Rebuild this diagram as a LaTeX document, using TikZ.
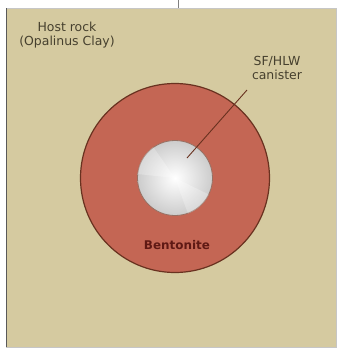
\documentclass[tikz,border=0pt]{standalone}
\usepackage{fontspec}
\setsansfont{DejaVu Sans}
\definecolor{hostrock}{RGB}{213,202,160}
\definecolor{bentonite}{RGB}{196,102,84}
\definecolor{rim}{RGB}{105,50,32}
\definecolor{labeltext}{RGB}{70,64,46}
\definecolor{bentotext}{RGB}{95,25,20}

\begin{document}
\begin{tikzpicture}[x=1bp,y=-1bp,
		rocklabel/.style={text=labeltext, font=\sffamily\fontsize{12.5}{14}\selectfont, align=center, inner sep=0},
		sheen/.style={white, opacity=0.25}]
			\useasboundingbox (0,0) rectangle (340,351);
			\fill[white] (0,0) rectangle (340,351);
			\fill[hostrock, draw=gray!45] (6,8) rectangle (336,347);
			\draw[gray!70!black, line width=1.5bp] (6.5,8) -- (6.5,347);
			\coordinate (tick) at (178,0);
			\draw[gray] (tick) -- ++(0,8);
			\node[circle, draw=rim, line width=1.2bp, fill=bentonite, minimum size=189bp, inner sep=0] (buffer) at (175,178) {};
			\node[circle, draw=rim!70, line width=0.8bp, inner color=white, outer color=gray!40, minimum size=75bp, inner sep=0] (canister) at (175,178) {};
			\fill[sheen] (canister.center) -- (canister.125) arc[start angle=125, end angle=175, radius=37bp] -- cycle;
			\fill[sheen] (canister.center) -- (canister.290) arc[start angle=290, end angle=335, radius=37bp] -- cycle;
			\node[rocklabel] (host) at (67,35) {Host rock\\(Opalinus Clay)};
			\node[rocklabel] (canlabel) at (277,68) {SF/HLW\\canister};
			\node[text=bentotext, font=\sffamily\bfseries\fontsize{12}{14}\selectfont, inner sep=0] (bentolabel) at (177,245) {Bentonite};
			\coordinate (tip) at (187,158);
			\coordinate (leadend) at (247,90);
			\draw[rim, line width=0.9bp] (tip) -- (leadend);
		\end{tikzpicture}
\end{document}
